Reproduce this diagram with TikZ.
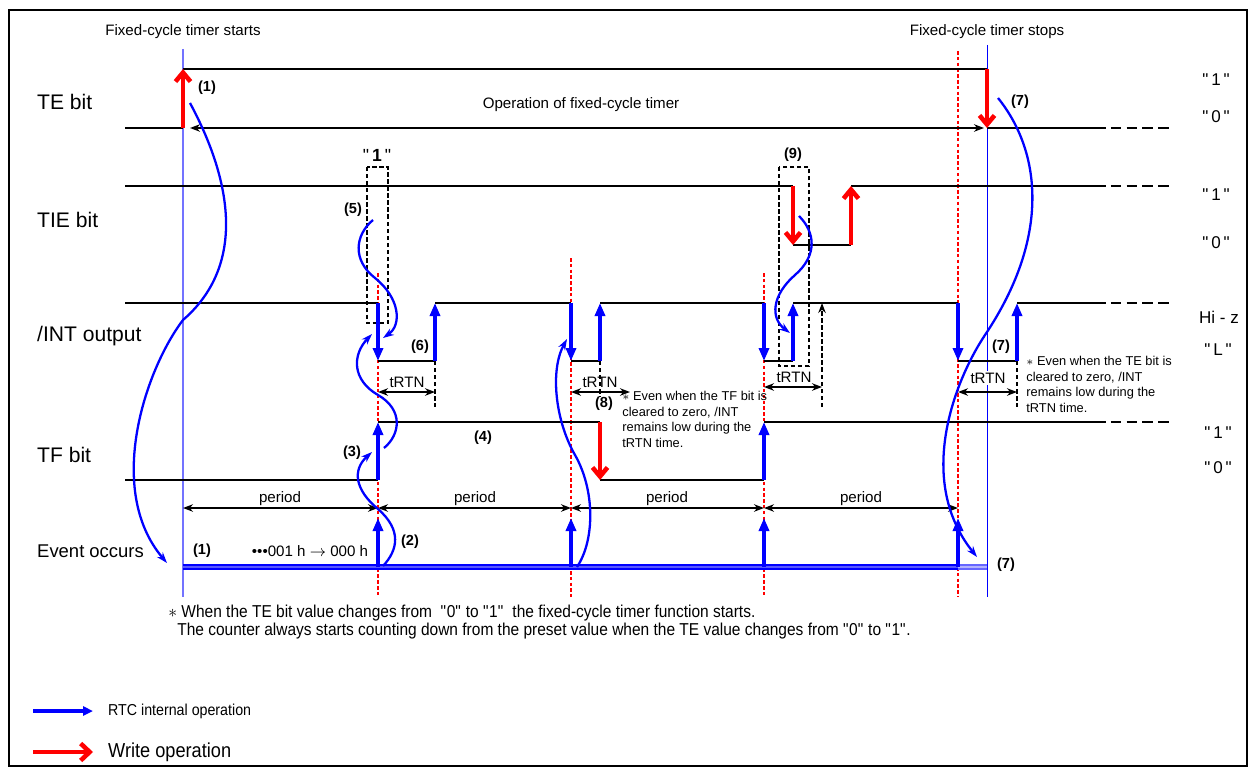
\documentclass[tikz,border=0pt]{standalone}
\usepackage{fontspec}
\setmainfont{Liberation Sans}
\newfontfamily\narrowsf[FakeStretch=0.9]{Liberation Sans}
\usetikzlibrary{arrows.meta}
\newcommand{\qmk}{\textquotedbl}

\begin{document}
\begin{tikzpicture}[x=0.02cm,y=-0.02cm,
  wave/.style={line width=1.2pt},
  wavefade/.style={line width=1.5pt,dash pattern=on 6pt off 3pt},
  rtc/.style={blue,line width=2.3pt,-{Triangle[length=2.6mm,width=2mm]}},
  wrt/.style={red,line width=2.6pt,-{Straight Barb[length=1.8mm,width=3mm]}},
  flow/.style={blue,line width=1.3pt,-{Stealth[length=2.2mm,width=1.5mm]}},
  evdash/.style={red,line width=1pt,dash pattern=on 2pt off 1.3pt},
  hold/.style={line width=1.2pt,dash pattern=on 2.5pt off 1.5pt},
  dim/.style={line width=1.1pt,{Stealth[length=2mm,width=1.5mm]}-{Stealth[length=2mm,width=1.5mm]}},
  sig/.style={font=\fontsize{12}{14}\selectfont,anchor=west},
  lvl/.style={font=\fontsize{9.7}{11}\selectfont},
  lab/.style={font=\fontsize{8.6}{10}\selectfont},
  num/.style={font=\bfseries\fontsize{8.3}{10}\selectfont},
  note/.style={font=\fontsize{7.3}{8.9}\selectfont,align=left,anchor=north west,inner sep=0pt}]
  \useasboundingbox (0,0) rectangle (1250,767);
  \draw[line width=1.2pt] (9,10) rectangle (1247,766);

  % time markers
  \draw[blue!55,line width=0.9pt] (183,49) -- (183,597);
  \draw[blue,line width=0.5pt] (987,45) -- (987,597);
  \draw[evdash] (378,273) -- (378,597);
  \draw[evdash] (571,258) -- (571,597);
  \draw[evdash] (764,273) -- (764,597);
  \draw[evdash] (958,51) -- (958,597);
  \node[lab] (tstart) at (183,32) {Fixed-cycle timer starts};
  \node[lab] (tstop) at (987,32) {Fixed-cycle timer stops};

  % TE bit
  \node[sig] (te) at (31,102) {TE bit};
  \draw[wave] (183,69) -- (987,69);
  \draw[wave] (125,128) -- (183,128);
  \draw[wave] (987,128) -- (1095,128);
  \draw[wavefade] (1095,128) -- (1170,128);
  \draw[wrt] (183,128) -- (183,69);
  \draw[wrt] (987,69) -- (987,128);
  \draw[line width=1pt,{Stealth[length=2mm,width=1.5mm]}-{Stealth[length=2mm,width=1.5mm]}] (190,128) -- (984,128);
  \node[lab] (op) at (581,105) {Operation of fixed-cycle timer};
  \node[num] (n1a) at (207,88) {(1)};
  \node[num] (n7a) at (1020,102) {(7)};
  \node[lvl] (te1) at (1216,80) {\qmk\,1\,\qmk};
  \node[lvl] (te0) at (1216,117) {\qmk\,0\,\qmk};

  % TIE bit
  \node[sig] (tie) at (31,220) {TIE bit};
  \draw[wave] (125,186) -- (793,186);
  \draw[wave] (793,245) -- (851,245);
  \draw[wave] (851,186) -- (1095,186);
  \draw[wavefade] (1095,186) -- (1170,186);
  \draw[wrt] (793,186) -- (793,245);
  \draw[wrt] (851,245) -- (851,186);
  \draw[hold] (367,167) rectangle (388,323);
  \draw[hold] (779,167) rectangle (809,366);
  \node[lvl,font=\bfseries\fontsize{10}{12}\selectfont] (box1) at (377,155) {\mdseries\qmk\,\bfseries1\,\mdseries\qmk};
  \node[num] (n9) at (793,155) {(9)};
  \node[num] (n5) at (353,210) {(5)};
  \node[lvl] (tie1) at (1216,195) {\qmk\,1\,\qmk};
  \node[lvl] (tie0) at (1216,243) {\qmk\,0\,\qmk};

  % /INT output
  \node[sig] (int) at (31,336) {/INT output};
  \draw[wave] (125,303) -- (378,303);
  \draw[wave] (378,361) -- (435,361);
  \draw[wave] (435,303) -- (571,303);
  \draw[wave] (571,361) -- (600,361);
  \draw[wave] (600,303) -- (764,303);
  \draw[wave] (764,361) -- (793,361);
  \draw[wave] (793,303) -- (958,303);
  \draw[wave] (958,361) -- (1017,361);
  \draw[wave] (1017,303) -- (1095,303);
  \draw[wavefade] (1095,303) -- (1170,303);
  \draw[rtc] (378,303) -- (378,361);
  \draw[rtc] (435,361) -- (435,303);
  \draw[rtc] (571,303) -- (571,361);
  \draw[rtc] (600,361) -- (600,303);
  \draw[rtc] (764,303) -- (764,361);
  \draw[rtc] (793,361) -- (793,303);
  \draw[rtc] (958,303) -- (958,361);
  \draw[rtc] (1017,361) -- (1017,303);
  \draw[hold] (435,361) -- (435,407);
  \draw[hold] (600,361) -- (600,397);
  \draw[hold] (1017,361) -- (1017,407);
  \draw[hold,-{Stealth[length=2mm,width=1.5mm]}] (822,407) -- (822,303);
  \draw[dim] (378,392) -- (435,392);
  \draw[dim] (571,392) -- (630,392);
  \draw[dim] (764,387) -- (822,387);
  \draw[dim] (958,392) -- (1017,392);
  \node[lab] (rtn1) at (407,382) {tRTN};
  \node[lab] (rtn2) at (600,382) {tRTN};
  \node[lab] (rtn3) at (794,377) {tRTN};
  \node[lab,fill=white,inner sep=1pt] (rtn4) at (988,378) {tRTN};
  \node[num] (n6) at (420,347) {(6)};
  \node[num] (n8) at (604,404) {(8)};
  \node[num] (n7b) at (1001,347) {(7)};
  \node[note] (tfnote) at (622,391) {$\ast$ Even when the TF bit is\\cleared to zero, /INT\\remains low during the\\tRTN time.};
  \node[note] (tenote) at (1026,356) {$\ast$ Even when the TE bit is\\cleared to zero, /INT\\remains low during the\\tRTN time.};
  \node[lvl] (hiz) at (1219,317) {Hi - z};
  \node[lvl] (intl) at (1218,350) {\qmk\,L\,\qmk};

  % TF bit
  \node[sig] (tf) at (31,455) {TF bit};
  \draw[wave] (125,480) -- (378,480);
  \draw[wave] (378,422) -- (600,422);
  \draw[wave] (600,480) -- (764,480);
  \draw[wave] (764,422) -- (1095,422);
  \draw[wavefade] (1095,422) -- (1170,422);
  \draw[rtc] (378,480) -- (378,422);
  \draw[wrt] (600,422) -- (600,480);
  \draw[rtc] (764,480) -- (764,422);
  \node[num] (n3) at (352,453) {(3)};
  \node[num] (n4) at (483,438) {(4)};
  \node[lvl] (tf1) at (1218,433) {\qmk\,1\,\qmk};
  \node[lvl] (tf0) at (1218,468) {\qmk\,0\,\qmk};

  % periods
  \draw[dim,line width=0.9pt] (183,508) -- (378,508);
  \draw[dim,line width=0.9pt] (378,508) -- (571,508);
  \draw[dim,line width=0.9pt] (571,508) -- (764,508);
  \draw[dim,line width=0.9pt] (764,508) -- (958,508);
  \node[lab] (per1) at (280,499) {period};
  \node[lab] (per2) at (475,499) {period};
  \node[lab] (per3) at (667,499) {period};
  \node[lab] (per4) at (861,499) {period};

  % event occurs
  \node[sig,font=\fontsize{10.5}{12}\selectfont] (ev) at (31,551) {Event occurs};
  \draw[blue,double=blue!65,double distance=0.7pt,line width=1.2pt] (183,567) -- (958,567);
  \draw[blue!60,double=blue!30,double distance=0.7pt,line width=1.2pt] (958,567) -- (987,567);
  \draw[rtc] (378,567) -- (378,518);
  \draw[rtc] (571,567) -- (571,518);
  \draw[rtc] (764,567) -- (764,518);
  \draw[rtc] (958,567) -- (958,518);
  \node[num] (n1b) at (202,551) {(1)};
  \node[lab] (cnt) at (310,551) {\textbullet\textbullet\textbullet001 h $\rightarrow$ 000 h};
  \node[num] (n2) at (410,542) {(2)};
  \node[num] (n7c) at (1006,565) {(7)};

  % RTC internal flow
  \draw[flow] (190,103) .. controls (218,155) and (258,255) .. (183,320) .. controls (145,370) and (105,490) .. (167,563);
  \draw[flow] (373,220) .. controls (355,235) and (352,260) .. (375,278) .. controls (400,298) and (402,325) .. (383,338);
  \draw[flow] (383,566) .. controls (398,550) and (402,530) .. (378,509) .. controls (355,490) and (352,470) .. (372,452);
  \draw[flow] (384,448) .. controls (400,435) and (404,410) .. (378,395) .. controls (352,380) and (352,355) .. (372,334);
  \draw[flow] (577,567) .. controls (595,540) and (595,490) .. (575,455) .. controls (555,420) and (550,370) .. (567,339);
  \draw[flow] (799,216) .. controls (815,232) and (818,255) .. (795,275) .. controls (772,295) and (770,318) .. (790,333);
  \draw[flow] (998,98) .. controls (1040,150) and (1052,235) .. (985,335) .. controls (955,380) and (915,480) .. (977,557);

  % footnote
  \node[anchor=west,inner sep=0pt,font=\narrowsf\fontsize{9.8}{12}\selectfont] (fn1) at (168,613) {$\ast$ When the TE bit value changes from ~\qmk0\qmk{} to \qmk1\qmk{} ~the fixed-cycle timer function starts.};
  \node[anchor=west,inner sep=0pt,font=\narrowsf\fontsize{9.8}{12}\selectfont] (fn2) at (177,631) {The counter always starts counting down from the preset value when the TE value changes from \qmk0\qmk{} to \qmk1\qmk.};

  % legend
  \draw[blue,line width=2.2pt,-{Triangle[length=2mm,width=1.8mm]}] (33,711) -- (93,711);
  \node[anchor=west,font=\narrowsf\fontsize{9}{11}\selectfont] (lgrtc) at (102,711) {RTC internal operation};
  \draw[red,line width=2.6pt,-{Straight Barb[length=1.8mm,width=3.4mm]}] (33,752) -- (93,752);
  \node[anchor=west,font=\narrowsf\fontsize{11.5}{13}\selectfont] (lgwr) at (102,752) {Write operation};
\end{tikzpicture}
\end{document}
